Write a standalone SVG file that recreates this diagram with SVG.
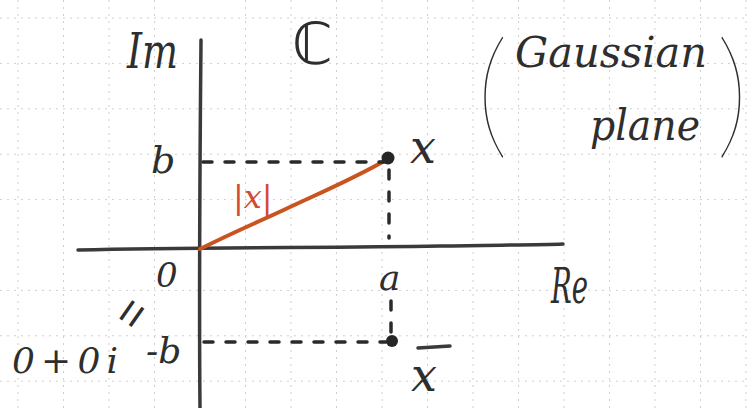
<svg xmlns="http://www.w3.org/2000/svg" width="749" height="408" viewBox="0 0 749 408">
<defs>
<style>
.grid{stroke:#cfcfcf;stroke-width:1;stroke-dasharray:2 5;fill:none}
.axis{stroke:#3a3a3a;stroke-width:3.5;fill:none;stroke-linecap:round}
.dash{stroke:#2a2a2a;stroke-width:3.5;fill:none;stroke-dasharray:9 13;stroke-linecap:round}
.mod{stroke:#c9541f;stroke-width:4;fill:none;stroke-linecap:round}
.pt{fill:#262626}
.t{font-family:"DejaVu Serif","Liberation Serif",serif;font-style:italic;fill:#2e2e2e}
.h{font-family:"Liberation Sans","DejaVu Sans",sans-serif;fill:#2e2e2e}
.red{fill:#d24a32}
.par{font-family:"Lato","DejaVu Sans",sans-serif;font-weight:100;fill:#2e2e2e}
</style>
</defs>
<rect width="749" height="408" fill="#ffffff"/>
<g id="grid">
<path class="grid" d="M18 0V408M63.5 0V408M109 0V408M154.5 0V408M245.5 0V408M291 0V408M336.5 0V408M382 0V408M427.5 0V408M473 0V408M518.5 0V408M564 0V408M609.5 0V408M655 0V408M700.5 0V408M746 0V408"/>
<path class="grid" d="M0 18H749M0 63.4H749M0 108.8H749M0 154.2H749M0 199.6H749M0 290.4H749M0 335.8H749M0 381.2H749"/>
</g>
<g id="connectors">
<path id="re-axis" class="axis" d="M78 250 C200 247 330 248 440 246 C500 245 540 245 563 244"/>
<path id="im-axis" class="axis" d="M201 40 C200 150 199 300 200 408"/>
<path id="modulus" class="mod" d="M200 249 C240 229 265 219 290 207 C320 193 355 178 386 160"/>
<path class="dash" d="M203 162H384"/>
<path class="dash" d="M389 170V238"/>
<path class="dash" d="M391 301V335"/>
<path class="dash" d="M204 342H386"/>
</g>
<g id="point-x"><circle class="pt" cx="388" cy="158" r="6.5"/></g>
<g id="point-xbar"><circle class="pt" cx="392" cy="341" r="6"/></g>
<g id="labels">
<text class="t" x="127" y="68" font-size="48" textLength="51" lengthAdjust="spacingAndGlyphs">Im</text>
<text class="h" x="292" y="64" font-size="58">ℂ</text>
<text class="t" x="151" y="173" font-size="38">b</text>
<text class="t" x="410" y="163" font-size="46">x</text>
<text class="t red" x="233" y="208" font-size="32">|x|</text>
<text class="t" x="156" y="287" font-size="34">0</text>
<text class="t" x="379" y="290" font-size="36">a</text>
<text class="t" x="551" y="303" font-size="48" textLength="37" lengthAdjust="spacingAndGlyphs">Re</text>
<text class="t" x="146" y="363" font-size="36">-b</text>
<text class="t" x="12" y="373" font-size="36" textLength="106" lengthAdjust="spacing">0+0i</text>
<text class="h" x="0" y="0" font-size="46" transform="translate(131 313) rotate(-55)" text-anchor="middle" dominant-baseline="central">=</text>
<text class="t" x="411" y="391" font-size="46">x</text>
<path class="axis" d="M418 348 L450 346" stroke-width="3"/>
</g>
<g id="gaussian-plane">
<text class="par" x="0" y="0" font-size="130" transform="translate(476 141) scale(1 1.06)">(</text>
<text class="t" x="515" y="67" font-size="42" textLength="192" lengthAdjust="spacingAndGlyphs">Gaussian</text>
<text class="t" x="590" y="140" font-size="42" textLength="110" lengthAdjust="spacingAndGlyphs">plane</text>
<text class="par" x="0" y="0" font-size="130" transform="translate(716 141) scale(1 1.06)">)</text>
</g>
</svg>
